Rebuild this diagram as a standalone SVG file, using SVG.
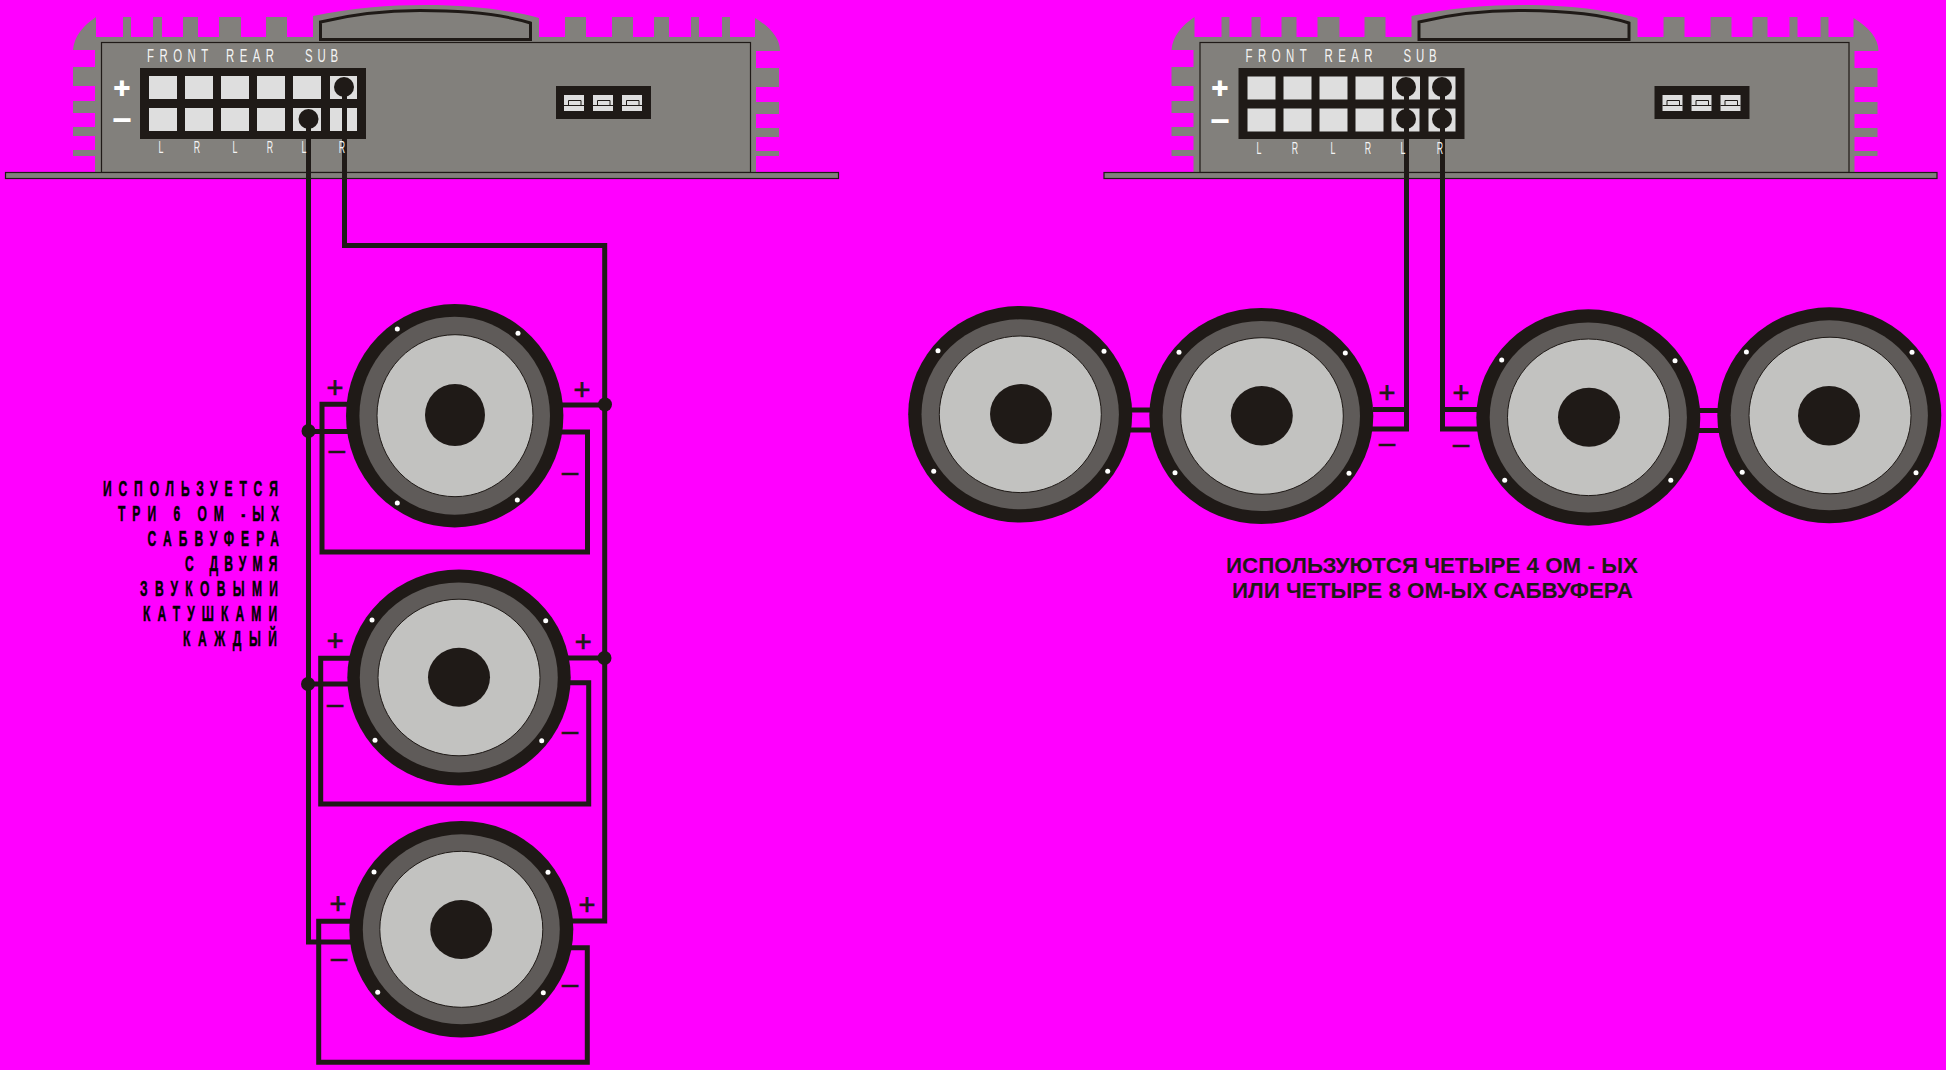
<svg xmlns="http://www.w3.org/2000/svg" xmlns:xlink="http://www.w3.org/1999/xlink" width="1946" height="1070" viewBox="0 0 1946 1070">
<style>
.wire{fill:none;stroke:#1f1a17;stroke-width:5}
.joint{fill:#1f1a17}
.k{fill:#1f1a17}
.g{fill:#82807c}
.ol{fill:#82807c;stroke:#1f1a17;stroke-width:1.2}
.cell{fill:#dedede}
.pan{fill:#1f1a17}
.ring{fill:#5f5b59}
.cone{fill:#c2c2c0;stroke:#1f1a17;stroke-width:1}
.scr{fill:#fff}
.pm{font:400 29px "Liberation Sans",Arial,sans-serif;fill:#1f1a17;text-anchor:middle;stroke:#1f1a17;stroke-width:.7}
.pw{font:400 27px "Liberation Sans",Arial,sans-serif;fill:#fff;stroke:#fff;stroke-width:2;text-anchor:middle}
.lab{font:400 19px "Liberation Sans",Arial,sans-serif;fill:#f4f4f4}
.lr{font:400 16px "Liberation Sans",Arial,sans-serif;fill:#f4f4f4;text-anchor:middle}
.side{font:700 22px "Liberation Sans",Arial,sans-serif;fill:#000;stroke:#000;stroke-width:.5}
.cap{font:700 22px "Liberation Sans",Arial,sans-serif;fill:#1f1a17}
.swl{fill:none;stroke:#1f1a17;stroke-width:1}
</style>
<defs>
<g id="ampbody">
<path class="g" d="M96,17V37H123V17H131V37H153V17H162V37H183V17H198V37H219V17H241V37H266V17H287V37H313V16C350,8 390,5 425,5C470,5 510,10 539,18V37H565V17H586V37H612V17H633V37H654V17H669V37H691V17H699V37H722V17H730V37H755V18C770,27 780,38 780,51H756V68H779V87H756V102H779V114H756V128H779V137H756V151H779V156H756V173H95V156H73V150H95V136H73V127H95V113H73V101H95V86H73V67H95V50H73C74,36 84,25 96,17Z"/>
<path class="g" stroke="#1f1a17" stroke-width="3" d="M320.5,22C345,16 375,10.500 420,10.500C465,10.500 505,15 530.500,23V39.500H320.500Z"/>
<rect class="ol" x="101.500" y="42.500" width="649" height="130"/>
<rect class="ol" x="5.500" y="172.500" width="833" height="6"/>
<rect class="pan" x="556" y="86" width="95" height="33"/>
<g class="cell"><rect x="564" y="95" width="20" height="16"/><rect x="593" y="95" width="20" height="16"/><rect x="622" y="95" width="20" height="16"/></g>
<g class="swl"><path d="M564,105.500H584M568.500,105.500V100.500H581V105.500M593,105.500H613M597.500,105.500V100.500H610V105.500M622,105.500H642M626.500,105.500V100.500H639V105.500"/></g>
<rect class="pan" x="140" y="68" width="226" height="71"/>
</g>
<g id="cells1"><rect x="149" y="76" width="28" height="23"/><rect x="185" y="76" width="28" height="23"/><rect x="221" y="76" width="28" height="23"/><rect x="257" y="76" width="28" height="23"/><rect x="149" y="108" width="28" height="23"/><rect x="185" y="108" width="28" height="23"/><rect x="221" y="108" width="28" height="23"/><rect x="257" y="108" width="28" height="23"/><rect x="293" y="108" width="28" height="23"/><rect x="330" y="76" width="27" height="23"/><rect x="330" y="108" width="27" height="23"/></g>
</defs>
<rect width="1946" height="1070" fill="#ff00ff"/>

<g id="amp-left">
<use xlink:href="#ampbody" href="#ampbody"/>
<use xlink:href="#cells1" href="#cells1" class="cell"/>
<rect class="cell" x="293" y="76" width="28" height="23"/>
<text class="pw" x="122" y="97">+</text><text class="pw" x="122" y="127">–</text>
<text class="lab" transform="translate(147,62) scale(.6,1)" textLength="102">FRONT</text>
<text class="lab" transform="translate(226,62) scale(.6,1)" textLength="80">REAR</text>
<text class="lab" transform="translate(305,62) scale(.6,1)" textLength="55">SUB</text>
</g>

<g id="amp-right">
<use xlink:href="#ampbody" href="#ampbody" x="1098.500"/>
<use xlink:href="#cells1" href="#cells1" class="cell" x="1098.500" y=".5"/>
<rect class="cell" x="1392" y="76.500" width="28" height="23"/>
<text class="pw" x="1220" y="97">+</text><text class="pw" x="1220" y="128">–</text>
<text class="lab" transform="translate(1245.500,62) scale(.6,1)" textLength="102">FRONT</text>
<text class="lab" transform="translate(1324.500,62) scale(.6,1)" textLength="80">REAR</text>
<text class="lab" transform="translate(1403.500,62) scale(.6,1)" textLength="55">SUB</text>
</g>

<g id="connectors">
<path class="wire" d="M308.500,119V942H352"/>
<path class="wire" d="M344.500,87V245.500H604.700V921H570"/>
<path class="wire" d="M308.500,431.500H352M308.500,684H352M605,405H555M605,658H565"/>
<path class="wire" d="M352,404.300H322V552H587.500V432H555"/>
<path class="wire" d="M352,658.300H320.700V804H588.700V682.700H565"/>
<path class="wire" d="M352,921.300H318.700V1062.300H587.300V947.700H565"/>
<g class="joint"><circle cx="308.500" cy="431" r="7"/><circle cx="308" cy="684" r="7"/><circle cx="605" cy="404.500" r="7"/><circle cx="604.500" cy="658" r="7"/><circle cx="308.500" cy="119" r="10"/><circle cx="344" cy="87" r="10"/></g>
<path class="wire" d="M1406.500,87V429H1370M1373,409.500H1406.500"/>
<path class="wire" d="M1442.500,87V429H1480M1442.500,409.500H1480"/>
<path class="wire" d="M1130,410H1152M1130,430H1152M1698,410.500H1720M1698,430.500H1720"/>
<g class="joint"><circle cx="1406" cy="87" r="10"/><circle cx="1406" cy="119" r="10"/><circle cx="1442" cy="87" r="10"/><circle cx="1442" cy="119" r="10"/></g>
</g>

<g id="amp-left-channels" transform="translate(0,153)"><text class="lr" transform="translate(161,0) scale(.55,1)">L</text><text class="lr" transform="translate(197,0) scale(.55,1)">R</text><text class="lr" transform="translate(235,0) scale(.55,1)">L</text><text class="lr" transform="translate(270,0) scale(.55,1)">R</text><text class="lr" transform="translate(304,0) scale(.55,1)">L</text><text class="lr" transform="translate(342,0) scale(.55,1)">R</text></g>
<g id="amp-right-channels" transform="translate(0,154)"><text class="lr" transform="translate(1259,0) scale(.55,1)">L</text><text class="lr" transform="translate(1295,0) scale(.55,1)">R</text><text class="lr" transform="translate(1333,0) scale(.55,1)">L</text><text class="lr" transform="translate(1368,0) scale(.55,1)">R</text><text class="lr" transform="translate(1403,0) scale(.55,1)">L</text><text class="lr" transform="translate(1440,0) scale(.55,1)">R</text></g>

<g id="speaker-1"><ellipse class="k" cx="454.700" cy="415.700" rx="108.700" ry="111.700"/><ellipse class="ring" cx="454.700" cy="415.700" rx="95.300" ry="99"/><ellipse class="cone" cx="455" cy="415.700" rx="78" ry="81"/><ellipse class="k" cx="455" cy="415" rx="30" ry="31"/><g class="scr"><circle cx="397.300" cy="329" r="2.500"/><circle cx="518" cy="333.300" r="2.500"/><circle cx="397.300" cy="503" r="2.500"/><circle cx="517.300" cy="500" r="2.500"/></g></g>
<g id="speaker-2"><ellipse class="k" cx="459" cy="677.500" rx="111.700" ry="108"/><ellipse class="ring" cx="458.800" cy="677.500" rx="99" ry="95"/><ellipse class="cone" cx="459" cy="677.500" rx="81" ry="78.300"/><ellipse class="k" cx="459" cy="677.300" rx="31" ry="29.500"/><g class="scr"><circle cx="372" cy="620" r="2.500"/><circle cx="545.700" cy="620.700" r="2.500"/><circle cx="375" cy="740.300" r="2.500"/><circle cx="541.700" cy="740.700" r="2.500"/></g></g>
<g id="speaker-3"><ellipse class="k" cx="461.300" cy="929.300" rx="112" ry="108.300"/><ellipse class="ring" cx="461.300" cy="929.300" rx="98.500" ry="95"/><ellipse class="cone" cx="461.300" cy="929.300" rx="81.500" ry="78"/><ellipse class="k" cx="461.200" cy="929.500" rx="31" ry="29.500"/><g class="scr"><circle cx="374" cy="872" r="2.500"/><circle cx="548" cy="872.300" r="2.500"/><circle cx="377.700" cy="992.300" r="2.500"/><circle cx="543.300" cy="992.700" r="2.500"/></g></g>
<g id="speaker-4"><ellipse class="k" cx="1020.200" cy="414.300" rx="112" ry="108.300"/><ellipse class="ring" cx="1020.200" cy="414.300" rx="98.700" ry="95"/><ellipse class="cone" cx="1020.300" cy="414.300" rx="81" ry="78.300"/><ellipse class="k" cx="1021" cy="414" rx="31" ry="30"/><g class="scr"><circle cx="938" cy="350.700" r="2.500"/><circle cx="1104" cy="351.300" r="2.500"/><circle cx="933.700" cy="471.300" r="2.500"/><circle cx="1107.700" cy="471.300" r="2.500"/></g></g>
<g id="speaker-5"><ellipse class="k" cx="1261.300" cy="416" rx="112" ry="108"/><ellipse class="ring" cx="1261.300" cy="416" rx="98.700" ry="95"/><ellipse class="cone" cx="1262" cy="416" rx="81.300" ry="78.300"/><ellipse class="k" cx="1261.800" cy="415.700" rx="31" ry="29.700"/><g class="scr"><circle cx="1179" cy="352.300" r="2.500"/><circle cx="1345.300" cy="353" r="2.500"/><circle cx="1175" cy="472.700" r="2.500"/><circle cx="1349" cy="473.300" r="2.500"/></g></g>
<g id="speaker-6"><ellipse class="k" cx="1588.300" cy="417.500" rx="112" ry="108.200"/><ellipse class="ring" cx="1588.300" cy="417.500" rx="98.600" ry="95"/><ellipse class="cone" cx="1588.500" cy="417.300" rx="81" ry="78.300"/><ellipse class="k" cx="1589" cy="417.300" rx="31" ry="29.500"/><g class="scr"><circle cx="1501.700" cy="360" r="2.500"/><circle cx="1675" cy="360.700" r="2.500"/><circle cx="1504.700" cy="480.300" r="2.500"/><circle cx="1670.800" cy="480.300" r="2.500"/></g></g>
<g id="speaker-7"><ellipse class="k" cx="1829.300" cy="415.300" rx="112" ry="108"/><ellipse class="ring" cx="1829.300" cy="415.300" rx="98.600" ry="95"/><ellipse class="cone" cx="1830" cy="415.500" rx="81" ry="78.300"/><ellipse class="k" cx="1829" cy="415.700" rx="31" ry="29.700"/><g class="scr"><circle cx="1746.400" cy="352" r="2.500"/><circle cx="1912" cy="352.300" r="2.500"/><circle cx="1742.200" cy="472.300" r="2.500"/><circle cx="1916" cy="472.700" r="2.500"/></g></g>

<g id="polarity-marks">
<text class="pm" x="335" y="398">+</text><text class="pm" x="336.700" y="460">–</text><text class="pm" x="582" y="400">+</text><text class="pm" x="570" y="482">–</text>
<text class="pm" x="335.300" y="651">+</text><text class="pm" x="335" y="714">–</text><text class="pm" x="583.300" y="652">+</text><text class="pm" x="570" y="741">–</text>
<text class="pm" x="338" y="914">+</text><text class="pm" x="339" y="968">–</text><text class="pm" x="587" y="915">+</text><text class="pm" x="570" y="994">–</text>
<text class="pm" x="1387" y="403">+</text><text class="pm" x="1387" y="453">–</text><text class="pm" x="1461" y="403">+</text><text class="pm" x="1461" y="454">–</text>
</g>

<g id="note-left">
<text class="side" transform="translate(103,495.700) scale(.55,1)" textLength="318">ИСПОЛЬЗУЕТСЯ</text>
<text class="side" transform="translate(118,520.700) scale(.55,1)" textLength="293">ТРИ 6 ОМ -ЫХ</text>
<text class="side" transform="translate(147.500,545.700) scale(.55,1)" textLength="239">САБВУФЕРА</text>
<text class="side" transform="translate(185,570.700) scale(.55,1)" textLength="168">С ДВУМЯ</text>
<text class="side" transform="translate(140,595.700) scale(.55,1)" textLength="251">ЗВУКОВЫМИ</text>
<text class="side" transform="translate(143,620.700) scale(.55,1)" textLength="244">КАТУШКАМИ</text>
<text class="side" transform="translate(183,646) scale(.55,1)" textLength="171">КАЖДЫЙ</text>
</g>
<g id="note-right">
<text class="cap" x="1226" y="573.300" textLength="412" lengthAdjust="spacingAndGlyphs">ИСПОЛЬЗУЮТСЯ ЧЕТЫРЕ 4 ОМ - ЫХ</text>
<text class="cap" x="1232" y="597.700" textLength="401" lengthAdjust="spacingAndGlyphs">ИЛИ ЧЕТЫРЕ 8 ОМ-ЫХ САБВУФЕРА</text>
</g>
</svg>
